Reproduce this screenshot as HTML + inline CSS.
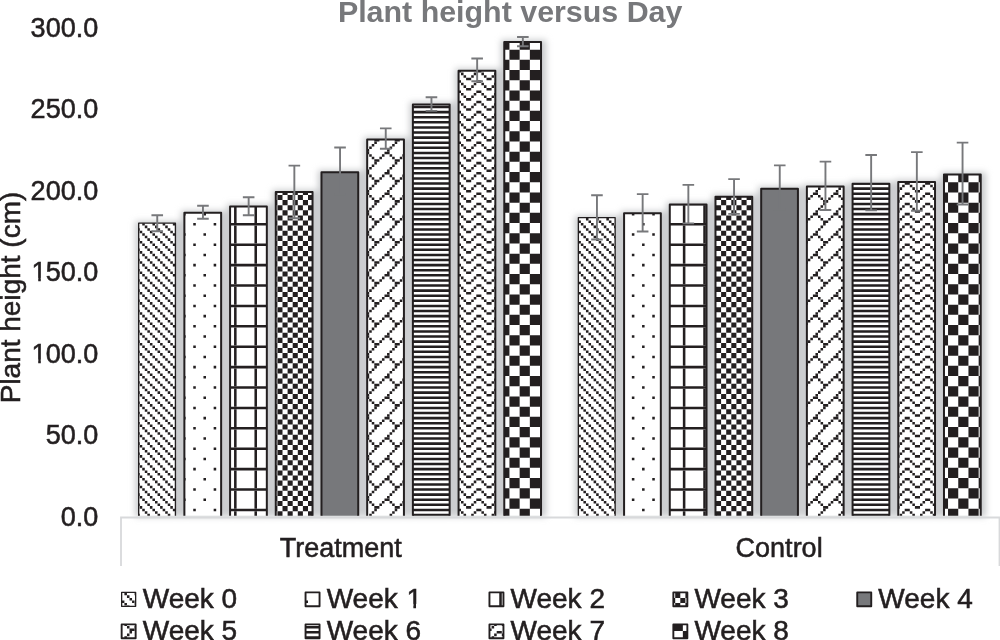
<!DOCTYPE html>
<html lang="en"><head><meta charset="utf-8"><title>Plant height versus Day</title>
<style>html,body{margin:0;padding:0;background:#fff}body{width:1000px;height:640px;overflow:hidden}svg{display:block}</style>
</head><body>
<svg width="1000" height="640" viewBox="0 0 1000 640"><defs><filter id="sh" x="-30%" y="-5%" width="160%" height="110%"><feGaussianBlur stdDeviation="3.1"/></filter><clipPath id="ct0"><rect x="138.68" y="223.18" width="36.75" height="292.53"/></clipPath><clipPath id="ct1"><rect x="184.38" y="212.8" width="36.75" height="302.9"/></clipPath><clipPath id="ct2"><rect x="230.08" y="206.4" width="36.75" height="309.3"/></clipPath><clipPath id="ct3"><rect x="275.78" y="192" width="36.75" height="323.7"/></clipPath><clipPath id="ct5"><rect x="367.18" y="139.4" width="36.75" height="376.3"/></clipPath><clipPath id="ct6"><rect x="412.88" y="104.4" width="36.75" height="411.3"/></clipPath><clipPath id="ct7"><rect x="458.58" y="70.8" width="36.75" height="444.9"/></clipPath><clipPath id="ct8"><rect x="504.28" y="42" width="36.75" height="473.7"/></clipPath><clipPath id="cc0"><rect x="578.38" y="217.68" width="36.75" height="298.03"/></clipPath><clipPath id="cc1"><rect x="624.08" y="213.2" width="36.75" height="302.5"/></clipPath><clipPath id="cc2"><rect x="669.78" y="204.4" width="36.75" height="311.3"/></clipPath><clipPath id="cc3"><rect x="715.48" y="196.7" width="36.75" height="319"/></clipPath><clipPath id="cc5"><rect x="806.88" y="186.6" width="36.75" height="329.1"/></clipPath><clipPath id="cc6"><rect x="852.58" y="183.7" width="36.75" height="332"/></clipPath><clipPath id="cc7"><rect x="898.28" y="181.9" width="36.75" height="333.8"/></clipPath><clipPath id="cc8"><rect x="943.98" y="174.5" width="36.75" height="341.2"/></clipPath><clipPath id="cl0"><rect x="121.65" y="592.4" width="14" height="13.9"/></clipPath><clipPath id="cl1"><rect x="305.55" y="592.4" width="14" height="13.9"/></clipPath><clipPath id="cl2"><rect x="489.45" y="592.4" width="14" height="13.9"/></clipPath><clipPath id="cl3"><rect x="673.35" y="592.4" width="14" height="13.9"/></clipPath><clipPath id="cl5"><rect x="121.65" y="624.4" width="14" height="13.9"/></clipPath><clipPath id="cl6"><rect x="305.55" y="624.4" width="14" height="13.9"/></clipPath><clipPath id="cl7"><rect x="489.45" y="624.4" width="14" height="13.9"/></clipPath><clipPath id="cl8"><rect x="673.35" y="624.4" width="14" height="13.9"/></clipPath></defs><rect width="1000" height="640" fill="#fff"/>
<g filter="url(#sh)" fill="#c9cbcd"><rect x="135.4" y="221.3" width="45.3" height="295.6"/><rect x="181.1" y="210.6" width="45.3" height="306.3"/><rect x="226.8" y="204.2" width="45.3" height="312.7"/><rect x="272.5" y="189.8" width="45.3" height="327.1"/><rect x="318.2" y="170.1" width="45.3" height="346.8"/><rect x="363.9" y="137.2" width="45.3" height="379.7"/><rect x="409.6" y="102.2" width="45.3" height="414.7"/><rect x="455.3" y="68.6" width="45.3" height="448.3"/><rect x="501" y="39.8" width="45.3" height="477.1"/><rect x="575.1" y="215.8" width="45.3" height="301.1"/><rect x="620.8" y="211" width="45.3" height="305.9"/><rect x="666.5" y="202.2" width="45.3" height="314.7"/><rect x="712.2" y="194.5" width="45.3" height="322.4"/><rect x="757.9" y="186.6" width="45.3" height="330.3"/><rect x="803.6" y="184.4" width="45.3" height="332.5"/><rect x="849.3" y="181.5" width="45.3" height="335.4"/><rect x="895" y="179.7" width="45.3" height="337.2"/><rect x="940.7" y="172.3" width="45.3" height="344.6"/></g>
<path d="M121 566V517.5H999.5V566" fill="none" stroke="#d8d9db" stroke-width="1.8"/>
<rect x="138.68" y="223.18" width="36.75" height="292.53" fill="#fff"/><g clip-path="url(#ct0)" stroke="#231f20" fill="none"><path d="M132.05 224.32H176.1M132.05 234.52H176.1M132.05 244.72H176.1M132.05 254.92H176.1M132.05 265.12H176.1M132.05 275.32H176.1M132.05 285.52H176.1M132.05 295.72H176.1M132.05 305.92H176.1M132.05 316.12H176.1M132.05 326.32H176.1M132.05 336.52H176.1M132.05 346.72H176.1M132.05 356.92H176.1M132.05 367.12H176.1M132.05 377.32H176.1M132.05 387.52H176.1M132.05 397.72H176.1M132.05 407.92H176.1M132.05 418.12H176.1M132.05 428.32H176.1M132.05 438.52H176.1M132.05 448.72H176.1M132.05 458.92H176.1M132.05 469.12H176.1M132.05 479.32H176.1M132.05 489.52H176.1M132.05 499.72H176.1M132.05 509.92H176.1" stroke-width="2.55" stroke-dasharray="2.55 7.65"/><path d="M134.6 226.88H176.1M134.6 237.07H176.1M134.6 247.27H176.1M134.6 257.47H176.1M134.6 267.67H176.1M134.6 277.87H176.1M134.6 288.07H176.1M134.6 298.27H176.1M134.6 308.47H176.1M134.6 318.67H176.1M134.6 328.87H176.1M134.6 339.07H176.1M134.6 349.27H176.1M134.6 359.47H176.1M134.6 369.67H176.1M134.6 379.87H176.1M134.6 390.07H176.1M134.6 400.27H176.1M134.6 410.47H176.1M134.6 420.67H176.1M134.6 430.87H176.1M134.6 441.07H176.1M134.6 451.27H176.1M134.6 461.47H176.1M134.6 471.67H176.1M134.6 481.87H176.1M134.6 492.07H176.1M134.6 502.27H176.1M134.6 512.47H176.1" stroke-width="2.55" stroke-dasharray="2.55 7.65"/><path d="M137.15 229.42H176.1M137.15 239.62H176.1M137.15 249.82H176.1M137.15 260.02H176.1M137.15 270.22H176.1M137.15 280.42H176.1M137.15 290.62H176.1M137.15 300.82H176.1M137.15 311.02H176.1M137.15 321.22H176.1M137.15 331.42H176.1M137.15 341.62H176.1M137.15 351.82H176.1M137.15 362.02H176.1M137.15 372.22H176.1M137.15 382.42H176.1M137.15 392.62H176.1M137.15 402.82H176.1M137.15 413.02H176.1M137.15 423.22H176.1M137.15 433.42H176.1M137.15 443.62H176.1M137.15 453.82H176.1M137.15 464.02H176.1M137.15 474.22H176.1M137.15 484.42H176.1M137.15 494.62H176.1M137.15 504.82H176.1M137.15 515.02H176.1" stroke-width="2.55" stroke-dasharray="2.55 7.65"/><path d="M139.7 221.78H176.1M139.7 231.97H176.1M139.7 242.17H176.1M139.7 252.37H176.1M139.7 262.57H176.1M139.7 272.77H176.1M139.7 282.97H176.1M139.7 293.17H176.1M139.7 303.37H176.1M139.7 313.57H176.1M139.7 323.77H176.1M139.7 333.97H176.1M139.7 344.17H176.1M139.7 354.37H176.1M139.7 364.57H176.1M139.7 374.77H176.1M139.7 384.97H176.1M139.7 395.17H176.1M139.7 405.37H176.1M139.7 415.57H176.1M139.7 425.77H176.1M139.7 435.97H176.1M139.7 446.17H176.1M139.7 456.37H176.1M139.7 466.57H176.1M139.7 476.77H176.1M139.7 486.97H176.1M139.7 497.17H176.1M139.7 507.37H176.1" stroke-width="2.55" stroke-dasharray="2.55 7.65"/></g><path d="M138.68 515.7V223.18H175.43V515.7" fill="none" stroke="#231f20" stroke-width="1.35" stroke-linejoin="round"/>
<rect x="184.38" y="212.8" width="36.75" height="302.9" fill="#fff"/><g clip-path="url(#ct1)" stroke="#231f20" fill="none"><path d="M172.85 224.33H222.13M172.85 244.73H222.13M172.85 265.12H222.13M172.85 285.52H222.13M172.85 305.92H222.13M172.85 326.32H222.13M172.85 346.72H222.13M172.85 367.12H222.13M172.85 387.52H222.13M172.85 407.92H222.13M172.85 428.32H222.13M172.85 448.72H222.13M172.85 469.12H222.13M172.85 489.52H222.13M172.85 509.92H222.13" stroke-width="2.55" stroke-dasharray="2.55 17.85"/><path d="M183.05 214.12H222.13M183.05 234.53H222.13M183.05 254.93H222.13M183.05 275.32H222.13M183.05 295.72H222.13M183.05 316.12H222.13M183.05 336.52H222.13M183.05 356.92H222.13M183.05 377.32H222.13M183.05 397.72H222.13M183.05 418.12H222.13M183.05 438.52H222.13M183.05 458.92H222.13M183.05 479.32H222.13M183.05 499.72H222.13" stroke-width="2.55" stroke-dasharray="2.55 17.85"/></g><path d="M184.38 515.7V212.8H221.13V515.7" fill="none" stroke="#231f20" stroke-width="2.0" stroke-linejoin="round"/>
<rect x="230.08" y="206.4" width="36.75" height="309.3" fill="#fff"/><g clip-path="url(#ct2)" stroke="#231f20" fill="none"><path d="M229.08 224.33H267.83M229.08 244.73H267.83M229.08 265.12H267.83M229.08 285.52H267.83M229.08 305.92H267.83M229.08 326.32H267.83M229.08 346.72H267.83M229.08 367.12H267.83M229.08 387.52H267.83M229.08 407.92H267.83M229.08 428.32H267.83M229.08 448.72H267.83M229.08 469.12H267.83M229.08 489.52H267.83M229.08 509.92H267.83" stroke-width="2.55"/><path d="M213.65 214.13H267.83M213.65 234.53H267.83M213.65 254.93H267.83M213.65 275.33H267.83M213.65 295.73H267.83M213.65 316.12H267.83M213.65 336.52H267.83M213.65 356.92H267.83M213.65 377.32H267.83M213.65 397.72H267.83M213.65 418.12H267.83M213.65 438.52H267.83M213.65 458.92H267.83M213.65 479.32H267.83M213.65 499.72H267.83M213.65 520.12H267.83" stroke-width="17.85" stroke-dasharray="2.55 17.85"/></g><path d="M230.08 515.7V206.4H266.83V515.7" fill="none" stroke="#231f20" stroke-width="2.0" stroke-linejoin="round"/>
<rect x="275.78" y="192" width="36.75" height="323.7" fill="#fff"/><g clip-path="url(#ct3)" stroke="#231f20" fill="none"><path d="M267.2 197.55H313.53M267.2 207.75H313.53M267.2 217.95H313.53M267.2 228.15H313.53M267.2 238.35H313.53M267.2 248.55H313.53M267.2 258.75H313.53M267.2 268.95H313.53M267.2 279.15H313.53M267.2 289.35H313.53M267.2 299.55H313.53M267.2 309.75H313.53M267.2 319.95H313.53M267.2 330.15H313.53M267.2 340.35H313.53M267.2 350.55H313.53M267.2 360.75H313.53M267.2 370.95H313.53M267.2 381.15H313.53M267.2 391.35H313.53M267.2 401.55H313.53M267.2 411.75H313.53M267.2 421.95H313.53M267.2 432.15H313.53M267.2 442.35H313.53M267.2 452.55H313.53M267.2 462.75H313.53M267.2 472.95H313.53M267.2 483.15H313.53M267.2 493.35H313.53M267.2 503.55H313.53M267.2 513.75H313.53" stroke-width="5.1" stroke-dasharray="5.1 5.1"/><path d="M262.1 192.45H313.53M262.1 202.65H313.53M262.1 212.85H313.53M262.1 223.05H313.53M262.1 233.25H313.53M262.1 243.45H313.53M262.1 253.65H313.53M262.1 263.85H313.53M262.1 274.05H313.53M262.1 284.25H313.53M262.1 294.45H313.53M262.1 304.65H313.53M262.1 314.85H313.53M262.1 325.05H313.53M262.1 335.25H313.53M262.1 345.45H313.53M262.1 355.65H313.53M262.1 365.85H313.53M262.1 376.05H313.53M262.1 386.25H313.53M262.1 396.45H313.53M262.1 406.65H313.53M262.1 416.85H313.53M262.1 427.05H313.53M262.1 437.25H313.53M262.1 447.45H313.53M262.1 457.65H313.53M262.1 467.85H313.53M262.1 478.05H313.53M262.1 488.25H313.53M262.1 498.45H313.53M262.1 508.65H313.53" stroke-width="5.1" stroke-dasharray="5.1 5.1"/></g><path d="M275.78 515.7V192H312.53V515.7" fill="none" stroke="#231f20" stroke-width="2.0" stroke-linejoin="round"/>
<rect x="321.48" y="172.3" width="36.75" height="343.4" fill="#77787b"/><path d="M321.48 515.7V172.3H358.23V515.7" fill="none" stroke="#231f20" stroke-width="2.0" stroke-linejoin="round"/>
<rect x="367.18" y="139.4" width="36.75" height="376.3" fill="#fff"/><g clip-path="url(#ct5)" stroke="#231f20" fill="none"><path d="M374.3 142.72H404.93M374.3 163.12H404.93M374.3 183.53H404.93M374.3 203.93H404.93M374.3 224.33H404.93M374.3 244.73H404.93M374.3 265.12H404.93M374.3 285.52H404.93M374.3 305.92H404.93M374.3 326.32H404.93M374.3 346.72H404.93M374.3 367.12H404.93M374.3 387.52H404.93M374.3 407.92H404.93M374.3 428.32H404.93M374.3 448.72H404.93M374.3 469.12H404.93M374.3 489.52H404.93M374.3 509.92H404.93" stroke-width="2.55" stroke-dasharray="2.55 17.85"/><path d="M371.75 145.28H404.93M371.75 165.68H404.93M371.75 186.08H404.93M371.75 206.48H404.93M371.75 226.88H404.93M371.75 247.28H404.93M371.75 267.68H404.93M371.75 288.07H404.93M371.75 308.47H404.93M371.75 328.87H404.93M371.75 349.27H404.93M371.75 369.67H404.93M371.75 390.07H404.93M371.75 410.47H404.93M371.75 430.87H404.93M371.75 451.27H404.93M371.75 471.67H404.93M371.75 492.07H404.93M371.75 512.47H404.93" stroke-width="2.55" stroke-dasharray="2.55 17.85"/><path d="M369.2 147.82H404.93M369.2 168.22H404.93M369.2 188.62H404.93M369.2 209.03H404.93M369.2 229.43H404.93M369.2 249.83H404.93M369.2 270.23H404.93M369.2 290.62H404.93M369.2 311.02H404.93M369.2 331.42H404.93M369.2 351.82H404.93M369.2 372.22H404.93M369.2 392.62H404.93M369.2 413.02H404.93M369.2 433.42H404.93M369.2 453.82H404.93M369.2 474.22H404.93M369.2 494.62H404.93M369.2 515.02H404.93" stroke-width="2.55" stroke-dasharray="2.55 17.85"/><path d="M366.65 150.38H404.93M366.65 170.78H404.93M366.65 191.18H404.93M366.65 211.58H404.93M366.65 231.98H404.93M366.65 252.38H404.93M366.65 272.78H404.93M366.65 293.18H404.93M366.65 313.57H404.93M366.65 333.97H404.93M366.65 354.37H404.93M366.65 374.77H404.93M366.65 395.17H404.93M366.65 415.57H404.93M366.65 435.97H404.93M366.65 456.37H404.93M366.65 476.77H404.93M366.65 497.17H404.93" stroke-width="2.55" stroke-dasharray="2.55 17.85"/><path d="M364.1 152.93H404.93M364.1 173.33H404.93M364.1 193.73H404.93M364.1 214.13H404.93M364.1 234.53H404.93M364.1 254.93H404.93M364.1 275.33H404.93M364.1 295.73H404.93M364.1 316.12H404.93M364.1 336.52H404.93M364.1 356.92H404.93M364.1 377.32H404.93M364.1 397.72H404.93M364.1 418.12H404.93M364.1 438.52H404.93M364.1 458.92H404.93M364.1 479.32H404.93M364.1 499.72H404.93" stroke-width="2.55" stroke-dasharray="5.1 15.3"/><path d="M361.55 155.48H404.93M361.55 175.88H404.93M361.55 196.28H404.93M361.55 216.68H404.93M361.55 237.08H404.93M361.55 257.48H404.93M361.55 277.88H404.93M361.55 298.27H404.93M361.55 318.67H404.93M361.55 339.07H404.93M361.55 359.47H404.93M361.55 379.87H404.93M361.55 400.27H404.93M361.55 420.67H404.93M361.55 441.07H404.93M361.55 461.47H404.93M361.55 481.87H404.93M361.55 502.27H404.93" stroke-width="2.55" stroke-dasharray="2.55 5.1 2.55 10.2"/><path d="M359 137.62H404.93M359 158.03H404.93M359 178.43H404.93M359 198.83H404.93M359 219.23H404.93M359 239.63H404.93M359 260.03H404.93M359 280.43H404.93M359 300.82H404.93M359 321.22H404.93M359 341.62H404.93M359 362.02H404.93M359 382.42H404.93M359 402.82H404.93M359 423.22H404.93M359 443.62H404.93M359 464.02H404.93M359 484.42H404.93M359 504.82H404.93" stroke-width="2.55" stroke-dasharray="2.55 10.2 2.55 5.1"/><path d="M353.9 140.18H404.93M353.9 160.58H404.93M353.9 180.98H404.93M353.9 201.38H404.93M353.9 221.78H404.93M353.9 242.18H404.93M353.9 262.58H404.93M353.9 282.98H404.93M353.9 303.38H404.93M353.9 323.77H404.93M353.9 344.17H404.93M353.9 364.57H404.93M353.9 384.97H404.93M353.9 405.37H404.93M353.9 425.77H404.93M353.9 446.17H404.93M353.9 466.57H404.93M353.9 486.97H404.93M353.9 507.37H404.93" stroke-width="2.55" stroke-dasharray="5.1 15.3"/></g><path d="M367.18 515.7V139.4H403.93V515.7" fill="none" stroke="#231f20" stroke-width="2.0" stroke-linejoin="round"/>
<rect x="412.88" y="104.4" width="36.75" height="411.3" fill="#fff"/><g clip-path="url(#ct6)" stroke="#231f20" fill="none"><path d="M411.88 107.02H450.63M411.88 112.12H450.63M411.88 117.22H450.63M411.88 122.32H450.63M411.88 127.42H450.63M411.88 132.52H450.63M411.88 137.62H450.63M411.88 142.72H450.63M411.88 147.82H450.63M411.88 152.92H450.63M411.88 158.02H450.63M411.88 163.12H450.63M411.88 168.22H450.63M411.88 173.32H450.63M411.88 178.42H450.63M411.88 183.52H450.63M411.88 188.62H450.63M411.88 193.72H450.63M411.88 198.82H450.63M411.88 203.92H450.63M411.88 209.02H450.63M411.88 214.12H450.63M411.88 219.22H450.63M411.88 224.32H450.63M411.88 229.42H450.63M411.88 234.52H450.63M411.88 239.62H450.63M411.88 244.72H450.63M411.88 249.82H450.63M411.88 254.92H450.63M411.88 260.02H450.63M411.88 265.12H450.63M411.88 270.22H450.63M411.88 275.32H450.63M411.88 280.42H450.63M411.88 285.52H450.63M411.88 290.62H450.63M411.88 295.73H450.63M411.88 300.83H450.63M411.88 305.93H450.63M411.88 311.03H450.63M411.88 316.13H450.63M411.88 321.23H450.63M411.88 326.33H450.63M411.88 331.43H450.63M411.88 336.53H450.63M411.88 341.63H450.63M411.88 346.73H450.63M411.88 351.83H450.63M411.88 356.93H450.63M411.88 362.03H450.63M411.88 367.13H450.63M411.88 372.23H450.63M411.88 377.33H450.63M411.88 382.43H450.63M411.88 387.53H450.63M411.88 392.63H450.63M411.88 397.73H450.63M411.88 402.83H450.63M411.88 407.93H450.63M411.88 413.03H450.63M411.88 418.13H450.63M411.88 423.23H450.63M411.88 428.33H450.63M411.88 433.43H450.63M411.88 438.53H450.63M411.88 443.63H450.63M411.88 448.73H450.63M411.88 453.83H450.63M411.88 458.93H450.63M411.88 464.03H450.63M411.88 469.13H450.63M411.88 474.23H450.63M411.88 479.33H450.63M411.88 484.43H450.63M411.88 489.53H450.63M411.88 494.63H450.63M411.88 499.73H450.63M411.88 504.83H450.63M411.88 509.93H450.63M411.88 515.03H450.63" stroke-width="2.55"/></g><path d="M412.88 515.7V104.4H449.63V515.7" fill="none" stroke="#231f20" stroke-width="2.0" stroke-linejoin="round"/>
<rect x="458.58" y="70.8" width="36.75" height="444.9" fill="#fff"/><g clip-path="url(#ct7)" stroke="#231f20" fill="none"><path d="M435.5 71.32H496.33M435.5 81.52H496.33M435.5 91.72H496.33M435.5 101.92H496.33M435.5 112.12H496.33M435.5 122.33H496.33M435.5 132.53H496.33M435.5 142.72H496.33M435.5 152.92H496.33M435.5 163.12H496.33M435.5 173.32H496.33M435.5 183.52H496.33M435.5 193.72H496.33M435.5 203.92H496.33M435.5 214.12H496.33M435.5 224.32H496.33M435.5 234.52H496.33M435.5 244.72H496.33M435.5 254.92H496.33M435.5 265.12H496.33M435.5 275.32H496.33M435.5 285.52H496.33M435.5 295.72H496.33M435.5 305.92H496.33M435.5 316.12H496.33M435.5 326.32H496.33M435.5 336.52H496.33M435.5 346.72H496.33M435.5 356.92H496.33M435.5 367.12H496.33M435.5 377.32H496.33M435.5 387.52H496.33M435.5 397.72H496.33M435.5 407.92H496.33M435.5 418.12H496.33M435.5 428.32H496.33M435.5 438.52H496.33M435.5 448.72H496.33M435.5 458.92H496.33M435.5 469.12H496.33M435.5 479.32H496.33M435.5 489.52H496.33M435.5 499.72H496.33M435.5 509.92H496.33" stroke-width="2.55" stroke-dasharray="5.1 15.3"/><path d="M440.6 73.87H496.33M440.6 84.07H496.33M440.6 94.27H496.33M440.6 104.47H496.33M440.6 114.67H496.33M440.6 124.88H496.33M440.6 135.07H496.33M440.6 145.27H496.33M440.6 155.47H496.33M440.6 165.67H496.33M440.6 175.87H496.33M440.6 186.07H496.33M440.6 196.27H496.33M440.6 206.47H496.33M440.6 216.67H496.33M440.6 226.87H496.33M440.6 237.07H496.33M440.6 247.27H496.33M440.6 257.47H496.33M440.6 267.67H496.33M440.6 277.87H496.33M440.6 288.07H496.33M440.6 298.27H496.33M440.6 308.47H496.33M440.6 318.67H496.33M440.6 328.87H496.33M440.6 339.07H496.33M440.6 349.27H496.33M440.6 359.47H496.33M440.6 369.67H496.33M440.6 379.87H496.33M440.6 390.07H496.33M440.6 400.27H496.33M440.6 410.47H496.33M440.6 420.67H496.33M440.6 430.87H496.33M440.6 441.07H496.33M440.6 451.27H496.33M440.6 461.47H496.33M440.6 471.67H496.33M440.6 481.87H496.33M440.6 492.07H496.33M440.6 502.27H496.33M440.6 512.47H496.33" stroke-width="2.55" stroke-dasharray="2.55 10.2 2.55 5.1"/><path d="M443.15 76.42H496.33M443.15 86.62H496.33M443.15 96.83H496.33M443.15 107.03H496.33M443.15 117.23H496.33M443.15 127.43H496.33M443.15 137.62H496.33M443.15 147.82H496.33M443.15 158.02H496.33M443.15 168.22H496.33M443.15 178.42H496.33M443.15 188.62H496.33M443.15 198.82H496.33M443.15 209.02H496.33M443.15 219.22H496.33M443.15 229.42H496.33M443.15 239.62H496.33M443.15 249.82H496.33M443.15 260.02H496.33M443.15 270.22H496.33M443.15 280.42H496.33M443.15 290.62H496.33M443.15 300.82H496.33M443.15 311.02H496.33M443.15 321.22H496.33M443.15 331.42H496.33M443.15 341.62H496.33M443.15 351.82H496.33M443.15 362.02H496.33M443.15 372.22H496.33M443.15 382.42H496.33M443.15 392.62H496.33M443.15 402.82H496.33M443.15 413.02H496.33M443.15 423.22H496.33M443.15 433.42H496.33M443.15 443.62H496.33M443.15 453.82H496.33M443.15 464.02H496.33M443.15 474.22H496.33M443.15 484.42H496.33M443.15 494.62H496.33M443.15 504.82H496.33M443.15 515.02H496.33" stroke-width="2.55" stroke-dasharray="2.55 5.1 2.55 10.2"/><path d="M445.7 68.78H496.33M445.7 78.98H496.33M445.7 89.18H496.33M445.7 99.38H496.33M445.7 109.58H496.33M445.7 119.78H496.33M445.7 129.98H496.33M445.7 140.18H496.33M445.7 150.38H496.33M445.7 160.57H496.33M445.7 170.77H496.33M445.7 180.97H496.33M445.7 191.17H496.33M445.7 201.37H496.33M445.7 211.57H496.33M445.7 221.77H496.33M445.7 231.97H496.33M445.7 242.17H496.33M445.7 252.37H496.33M445.7 262.57H496.33M445.7 272.77H496.33M445.7 282.97H496.33M445.7 293.17H496.33M445.7 303.37H496.33M445.7 313.57H496.33M445.7 323.77H496.33M445.7 333.97H496.33M445.7 344.17H496.33M445.7 354.37H496.33M445.7 364.57H496.33M445.7 374.77H496.33M445.7 384.97H496.33M445.7 395.17H496.33M445.7 405.37H496.33M445.7 415.57H496.33M445.7 425.77H496.33M445.7 435.97H496.33M445.7 446.17H496.33M445.7 456.37H496.33M445.7 466.57H496.33M445.7 476.77H496.33M445.7 486.97H496.33M445.7 497.17H496.33M445.7 507.37H496.33" stroke-width="2.55" stroke-dasharray="5.1 15.3"/></g><path d="M458.58 515.7V70.8H495.33V515.7" fill="none" stroke="#231f20" stroke-width="2.0" stroke-linejoin="round"/>
<rect x="504.28" y="42" width="36.75" height="473.7" fill="#fff"/><g clip-path="url(#ct8)" stroke="#231f20" fill="none"><path d="M499.25 44.55H542.03M499.25 64.95H542.03M499.25 85.35H542.03M499.25 105.75H542.03M499.25 126.15H542.03M499.25 146.55H542.03M499.25 166.95H542.03M499.25 187.35H542.03M499.25 207.75H542.03M499.25 228.15H542.03M499.25 248.55H542.03M499.25 268.95H542.03M499.25 289.35H542.03M499.25 309.75H542.03M499.25 330.15H542.03M499.25 350.55H542.03M499.25 370.95H542.03M499.25 391.35H542.03M499.25 411.75H542.03M499.25 432.15H542.03M499.25 452.55H542.03M499.25 472.95H542.03M499.25 493.35H542.03M499.25 513.75H542.03" stroke-width="10.2" stroke-dasharray="10.2 10.2"/><path d="M509.45 54.75H542.03M509.45 75.15H542.03M509.45 95.55H542.03M509.45 115.95H542.03M509.45 136.35H542.03M509.45 156.75H542.03M509.45 177.15H542.03M509.45 197.55H542.03M509.45 217.95H542.03M509.45 238.35H542.03M509.45 258.75H542.03M509.45 279.15H542.03M509.45 299.55H542.03M509.45 319.95H542.03M509.45 340.35H542.03M509.45 360.75H542.03M509.45 381.15H542.03M509.45 401.55H542.03M509.45 421.95H542.03M509.45 442.35H542.03M509.45 462.75H542.03M509.45 483.15H542.03M509.45 503.55H542.03" stroke-width="10.2" stroke-dasharray="10.2 10.2"/></g><path d="M504.28 515.7V42H541.03V515.7" fill="none" stroke="#231f20" stroke-width="2.0" stroke-linejoin="round"/>
<rect x="578.38" y="217.68" width="36.75" height="298.03" fill="#fff"/><g clip-path="url(#cc0)" stroke="#231f20" fill="none"><path d="M570.65 224.32H615.81M570.65 234.52H615.81M570.65 244.72H615.81M570.65 254.92H615.81M570.65 265.12H615.81M570.65 275.32H615.81M570.65 285.52H615.81M570.65 295.72H615.81M570.65 305.92H615.81M570.65 316.12H615.81M570.65 326.32H615.81M570.65 336.52H615.81M570.65 346.72H615.81M570.65 356.92H615.81M570.65 367.12H615.81M570.65 377.32H615.81M570.65 387.52H615.81M570.65 397.72H615.81M570.65 407.92H615.81M570.65 418.12H615.81M570.65 428.32H615.81M570.65 438.52H615.81M570.65 448.72H615.81M570.65 458.92H615.81M570.65 469.12H615.81M570.65 479.32H615.81M570.65 489.52H615.81M570.65 499.72H615.81M570.65 509.92H615.81" stroke-width="2.55" stroke-dasharray="2.55 7.65"/><path d="M573.2 216.68H615.81M573.2 226.88H615.81M573.2 237.07H615.81M573.2 247.27H615.81M573.2 257.47H615.81M573.2 267.67H615.81M573.2 277.87H615.81M573.2 288.07H615.81M573.2 298.27H615.81M573.2 308.47H615.81M573.2 318.67H615.81M573.2 328.87H615.81M573.2 339.07H615.81M573.2 349.27H615.81M573.2 359.47H615.81M573.2 369.67H615.81M573.2 379.87H615.81M573.2 390.07H615.81M573.2 400.27H615.81M573.2 410.47H615.81M573.2 420.67H615.81M573.2 430.87H615.81M573.2 441.07H615.81M573.2 451.27H615.81M573.2 461.47H615.81M573.2 471.67H615.81M573.2 481.87H615.81M573.2 492.07H615.81M573.2 502.27H615.81M573.2 512.47H615.81" stroke-width="2.55" stroke-dasharray="2.55 7.65"/><path d="M575.75 219.22H615.81M575.75 229.42H615.81M575.75 239.62H615.81M575.75 249.82H615.81M575.75 260.02H615.81M575.75 270.22H615.81M575.75 280.42H615.81M575.75 290.62H615.81M575.75 300.82H615.81M575.75 311.02H615.81M575.75 321.22H615.81M575.75 331.42H615.81M575.75 341.62H615.81M575.75 351.82H615.81M575.75 362.02H615.81M575.75 372.22H615.81M575.75 382.42H615.81M575.75 392.62H615.81M575.75 402.82H615.81M575.75 413.02H615.81M575.75 423.22H615.81M575.75 433.42H615.81M575.75 443.62H615.81M575.75 453.82H615.81M575.75 464.02H615.81M575.75 474.22H615.81M575.75 484.42H615.81M575.75 494.62H615.81M575.75 504.82H615.81M575.75 515.02H615.81" stroke-width="2.55" stroke-dasharray="2.55 7.65"/><path d="M578.3 221.78H615.81M578.3 231.97H615.81M578.3 242.17H615.81M578.3 252.37H615.81M578.3 262.57H615.81M578.3 272.77H615.81M578.3 282.97H615.81M578.3 293.17H615.81M578.3 303.37H615.81M578.3 313.57H615.81M578.3 323.77H615.81M578.3 333.97H615.81M578.3 344.17H615.81M578.3 354.37H615.81M578.3 364.57H615.81M578.3 374.77H615.81M578.3 384.97H615.81M578.3 395.17H615.81M578.3 405.37H615.81M578.3 415.57H615.81M578.3 425.77H615.81M578.3 435.97H615.81M578.3 446.17H615.81M578.3 456.37H615.81M578.3 466.57H615.81M578.3 476.77H615.81M578.3 486.97H615.81M578.3 497.17H615.81M578.3 507.37H615.81" stroke-width="2.55" stroke-dasharray="2.55 7.65"/></g><path d="M578.38 515.7V217.68H615.13V515.7" fill="none" stroke="#231f20" stroke-width="1.35" stroke-linejoin="round"/>
<rect x="624.08" y="213.2" width="36.75" height="302.5" fill="#fff"/><g clip-path="url(#cc1)" stroke="#231f20" fill="none"><path d="M621.65 224.33H661.83M621.65 244.73H661.83M621.65 265.12H661.83M621.65 285.52H661.83M621.65 305.92H661.83M621.65 326.32H661.83M621.65 346.72H661.83M621.65 367.12H661.83M621.65 387.52H661.83M621.65 407.92H661.83M621.65 428.32H661.83M621.65 448.72H661.83M621.65 469.12H661.83M621.65 489.52H661.83M621.65 509.92H661.83" stroke-width="2.55" stroke-dasharray="2.55 17.85"/><path d="M631.85 214.12H661.83M631.85 234.53H661.83M631.85 254.93H661.83M631.85 275.32H661.83M631.85 295.72H661.83M631.85 316.12H661.83M631.85 336.52H661.83M631.85 356.92H661.83M631.85 377.32H661.83M631.85 397.72H661.83M631.85 418.12H661.83M631.85 438.52H661.83M631.85 458.92H661.83M631.85 479.32H661.83M631.85 499.72H661.83" stroke-width="2.55" stroke-dasharray="2.55 17.85"/></g><path d="M624.08 515.7V213.2H660.83V515.7" fill="none" stroke="#231f20" stroke-width="2.0" stroke-linejoin="round"/>
<rect x="669.78" y="204.4" width="36.75" height="311.3" fill="#fff"/><g clip-path="url(#cc2)" stroke="#231f20" fill="none"><path d="M668.78 203.93H707.53M668.78 224.33H707.53M668.78 244.73H707.53M668.78 265.12H707.53M668.78 285.52H707.53M668.78 305.92H707.53M668.78 326.32H707.53M668.78 346.72H707.53M668.78 367.12H707.53M668.78 387.52H707.53M668.78 407.92H707.53M668.78 428.32H707.53M668.78 448.72H707.53M668.78 469.12H707.53M668.78 489.52H707.53M668.78 509.92H707.53" stroke-width="2.55"/><path d="M662.45 214.13H707.53M662.45 234.53H707.53M662.45 254.93H707.53M662.45 275.33H707.53M662.45 295.73H707.53M662.45 316.12H707.53M662.45 336.52H707.53M662.45 356.92H707.53M662.45 377.32H707.53M662.45 397.72H707.53M662.45 418.12H707.53M662.45 438.52H707.53M662.45 458.92H707.53M662.45 479.32H707.53M662.45 499.72H707.53M662.45 520.12H707.53" stroke-width="17.85" stroke-dasharray="2.55 17.85"/></g><path d="M669.78 515.7V204.4H706.53V515.7" fill="none" stroke="#231f20" stroke-width="2.0" stroke-linejoin="round"/>
<rect x="715.48" y="196.7" width="36.75" height="319" fill="#fff"/><g clip-path="url(#cc3)" stroke="#231f20" fill="none"><path d="M716 197.55H753.23M716 207.75H753.23M716 217.95H753.23M716 228.15H753.23M716 238.35H753.23M716 248.55H753.23M716 258.75H753.23M716 268.95H753.23M716 279.15H753.23M716 289.35H753.23M716 299.55H753.23M716 309.75H753.23M716 319.95H753.23M716 330.15H753.23M716 340.35H753.23M716 350.55H753.23M716 360.75H753.23M716 370.95H753.23M716 381.15H753.23M716 391.35H753.23M716 401.55H753.23M716 411.75H753.23M716 421.95H753.23M716 432.15H753.23M716 442.35H753.23M716 452.55H753.23M716 462.75H753.23M716 472.95H753.23M716 483.15H753.23M716 493.35H753.23M716 503.55H753.23M716 513.75H753.23" stroke-width="5.1" stroke-dasharray="5.1 5.1"/><path d="M710.9 202.65H753.23M710.9 212.85H753.23M710.9 223.05H753.23M710.9 233.25H753.23M710.9 243.45H753.23M710.9 253.65H753.23M710.9 263.85H753.23M710.9 274.05H753.23M710.9 284.25H753.23M710.9 294.45H753.23M710.9 304.65H753.23M710.9 314.85H753.23M710.9 325.05H753.23M710.9 335.25H753.23M710.9 345.45H753.23M710.9 355.65H753.23M710.9 365.85H753.23M710.9 376.05H753.23M710.9 386.25H753.23M710.9 396.45H753.23M710.9 406.65H753.23M710.9 416.85H753.23M710.9 427.05H753.23M710.9 437.25H753.23M710.9 447.45H753.23M710.9 457.65H753.23M710.9 467.85H753.23M710.9 478.05H753.23M710.9 488.25H753.23M710.9 498.45H753.23M710.9 508.65H753.23" stroke-width="5.1" stroke-dasharray="5.1 5.1"/></g><path d="M715.48 515.7V196.7H752.23V515.7" fill="none" stroke="#231f20" stroke-width="2.0" stroke-linejoin="round"/>
<rect x="761.18" y="188.8" width="36.75" height="326.9" fill="#77787b"/><path d="M761.18 515.7V188.8H797.93V515.7" fill="none" stroke="#231f20" stroke-width="2.0" stroke-linejoin="round"/>
<rect x="806.88" y="186.6" width="36.75" height="329.1" fill="#fff"/><g clip-path="url(#cc5)" stroke="#231f20" fill="none"><path d="M823.1 203.93H844.63M823.1 224.33H844.63M823.1 244.73H844.63M823.1 265.12H844.63M823.1 285.52H844.63M823.1 305.92H844.63M823.1 326.32H844.63M823.1 346.72H844.63M823.1 367.12H844.63M823.1 387.52H844.63M823.1 407.92H844.63M823.1 428.32H844.63M823.1 448.72H844.63M823.1 469.12H844.63M823.1 489.52H844.63M823.1 509.92H844.63" stroke-width="2.55" stroke-dasharray="2.55 17.85"/><path d="M820.55 186.08H844.63M820.55 206.48H844.63M820.55 226.88H844.63M820.55 247.28H844.63M820.55 267.68H844.63M820.55 288.07H844.63M820.55 308.47H844.63M820.55 328.87H844.63M820.55 349.27H844.63M820.55 369.67H844.63M820.55 390.07H844.63M820.55 410.47H844.63M820.55 430.87H844.63M820.55 451.27H844.63M820.55 471.67H844.63M820.55 492.07H844.63M820.55 512.47H844.63" stroke-width="2.55" stroke-dasharray="2.55 17.85"/><path d="M818 188.62H844.63M818 209.03H844.63M818 229.43H844.63M818 249.83H844.63M818 270.23H844.63M818 290.62H844.63M818 311.02H844.63M818 331.42H844.63M818 351.82H844.63M818 372.22H844.63M818 392.62H844.63M818 413.02H844.63M818 433.42H844.63M818 453.82H844.63M818 474.22H844.63M818 494.62H844.63M818 515.02H844.63" stroke-width="2.55" stroke-dasharray="2.55 17.85"/><path d="M815.45 191.18H844.63M815.45 211.58H844.63M815.45 231.98H844.63M815.45 252.38H844.63M815.45 272.78H844.63M815.45 293.18H844.63M815.45 313.57H844.63M815.45 333.97H844.63M815.45 354.37H844.63M815.45 374.77H844.63M815.45 395.17H844.63M815.45 415.57H844.63M815.45 435.97H844.63M815.45 456.37H844.63M815.45 476.77H844.63M815.45 497.17H844.63" stroke-width="2.55" stroke-dasharray="2.55 17.85"/><path d="M812.9 193.72H844.63M812.9 214.12H844.63M812.9 234.53H844.63M812.9 254.93H844.63M812.9 275.32H844.63M812.9 295.72H844.63M812.9 316.12H844.63M812.9 336.52H844.63M812.9 356.92H844.63M812.9 377.32H844.63M812.9 397.72H844.63M812.9 418.12H844.63M812.9 438.52H844.63M812.9 458.92H844.63M812.9 479.32H844.63M812.9 499.72H844.63" stroke-width="2.55" stroke-dasharray="5.1 15.3"/><path d="M810.35 196.28H844.63M810.35 216.68H844.63M810.35 237.08H844.63M810.35 257.48H844.63M810.35 277.88H844.63M810.35 298.27H844.63M810.35 318.67H844.63M810.35 339.07H844.63M810.35 359.47H844.63M810.35 379.87H844.63M810.35 400.27H844.63M810.35 420.67H844.63M810.35 441.07H844.63M810.35 461.47H844.63M810.35 481.87H844.63M810.35 502.27H844.63" stroke-width="2.55" stroke-dasharray="2.55 5.1 2.55 10.2"/><path d="M807.8 198.83H844.63M807.8 219.23H844.63M807.8 239.63H844.63M807.8 260.03H844.63M807.8 280.43H844.63M807.8 300.82H844.63M807.8 321.22H844.63M807.8 341.62H844.63M807.8 362.02H844.63M807.8 382.42H844.63M807.8 402.82H844.63M807.8 423.22H844.63M807.8 443.62H844.63M807.8 464.02H844.63M807.8 484.42H844.63M807.8 504.82H844.63" stroke-width="2.55" stroke-dasharray="2.55 10.2 2.55 5.1"/><path d="M802.7 201.38H844.63M802.7 221.78H844.63M802.7 242.18H844.63M802.7 262.57H844.63M802.7 282.97H844.63M802.7 303.37H844.63M802.7 323.77H844.63M802.7 344.17H844.63M802.7 364.57H844.63M802.7 384.97H844.63M802.7 405.37H844.63M802.7 425.77H844.63M802.7 446.17H844.63M802.7 466.57H844.63M802.7 486.97H844.63M802.7 507.37H844.63" stroke-width="2.55" stroke-dasharray="5.1 15.3"/></g><path d="M806.88 515.7V186.6H843.63V515.7" fill="none" stroke="#231f20" stroke-width="2.0" stroke-linejoin="round"/>
<rect x="852.58" y="183.7" width="36.75" height="332" fill="#fff"/><g clip-path="url(#cc6)" stroke="#231f20" fill="none"><path d="M851.58 183.53H890.33M851.58 188.62H890.33M851.58 193.72H890.33M851.58 198.82H890.33M851.58 203.92H890.33M851.58 209.02H890.33M851.58 214.12H890.33M851.58 219.22H890.33M851.58 224.32H890.33M851.58 229.42H890.33M851.58 234.52H890.33M851.58 239.62H890.33M851.58 244.72H890.33M851.58 249.82H890.33M851.58 254.92H890.33M851.58 260.02H890.33M851.58 265.12H890.33M851.58 270.22H890.33M851.58 275.32H890.33M851.58 280.43H890.33M851.58 285.53H890.33M851.58 290.63H890.33M851.58 295.73H890.33M851.58 300.83H890.33M851.58 305.93H890.33M851.58 311.03H890.33M851.58 316.13H890.33M851.58 321.23H890.33M851.58 326.33H890.33M851.58 331.43H890.33M851.58 336.53H890.33M851.58 341.63H890.33M851.58 346.73H890.33M851.58 351.83H890.33M851.58 356.93H890.33M851.58 362.03H890.33M851.58 367.13H890.33M851.58 372.23H890.33M851.58 377.33H890.33M851.58 382.43H890.33M851.58 387.53H890.33M851.58 392.63H890.33M851.58 397.73H890.33M851.58 402.83H890.33M851.58 407.93H890.33M851.58 413.03H890.33M851.58 418.13H890.33M851.58 423.23H890.33M851.58 428.33H890.33M851.58 433.43H890.33M851.58 438.53H890.33M851.58 443.63H890.33M851.58 448.73H890.33M851.58 453.83H890.33M851.58 458.93H890.33M851.58 464.03H890.33M851.58 469.13H890.33M851.58 474.23H890.33M851.58 479.33H890.33M851.58 484.43H890.33M851.58 489.53H890.33M851.58 494.63H890.33M851.58 499.73H890.33M851.58 504.83H890.33M851.58 509.93H890.33M851.58 515.03H890.33" stroke-width="2.55"/></g><path d="M852.58 515.7V183.7H889.33V515.7" fill="none" stroke="#231f20" stroke-width="2.0" stroke-linejoin="round"/>
<rect x="898.28" y="181.9" width="36.75" height="333.8" fill="#fff"/><g clip-path="url(#cc7)" stroke="#231f20" fill="none"><path d="M884.3 183.53H936.03M884.3 193.72H936.03M884.3 203.92H936.03M884.3 214.12H936.03M884.3 224.32H936.03M884.3 234.52H936.03M884.3 244.72H936.03M884.3 254.92H936.03M884.3 265.12H936.03M884.3 275.32H936.03M884.3 285.52H936.03M884.3 295.72H936.03M884.3 305.92H936.03M884.3 316.12H936.03M884.3 326.32H936.03M884.3 336.52H936.03M884.3 346.72H936.03M884.3 356.92H936.03M884.3 367.12H936.03M884.3 377.32H936.03M884.3 387.52H936.03M884.3 397.72H936.03M884.3 407.92H936.03M884.3 418.12H936.03M884.3 428.32H936.03M884.3 438.52H936.03M884.3 448.72H936.03M884.3 458.92H936.03M884.3 469.12H936.03M884.3 479.32H936.03M884.3 489.52H936.03M884.3 499.72H936.03M884.3 509.92H936.03" stroke-width="2.55" stroke-dasharray="5.1 15.3"/><path d="M889.4 186.08H936.03M889.4 196.28H936.03M889.4 206.47H936.03M889.4 216.67H936.03M889.4 226.87H936.03M889.4 237.07H936.03M889.4 247.27H936.03M889.4 257.47H936.03M889.4 267.67H936.03M889.4 277.87H936.03M889.4 288.07H936.03M889.4 298.27H936.03M889.4 308.47H936.03M889.4 318.67H936.03M889.4 328.87H936.03M889.4 339.07H936.03M889.4 349.27H936.03M889.4 359.47H936.03M889.4 369.67H936.03M889.4 379.87H936.03M889.4 390.07H936.03M889.4 400.27H936.03M889.4 410.47H936.03M889.4 420.67H936.03M889.4 430.87H936.03M889.4 441.07H936.03M889.4 451.27H936.03M889.4 461.47H936.03M889.4 471.67H936.03M889.4 481.87H936.03M889.4 492.07H936.03M889.4 502.27H936.03M889.4 512.47H936.03" stroke-width="2.55" stroke-dasharray="2.55 10.2 2.55 5.1"/><path d="M891.95 188.62H936.03M891.95 198.82H936.03M891.95 209.02H936.03M891.95 219.22H936.03M891.95 229.42H936.03M891.95 239.62H936.03M891.95 249.82H936.03M891.95 260.02H936.03M891.95 270.22H936.03M891.95 280.42H936.03M891.95 290.62H936.03M891.95 300.82H936.03M891.95 311.02H936.03M891.95 321.22H936.03M891.95 331.42H936.03M891.95 341.62H936.03M891.95 351.82H936.03M891.95 362.02H936.03M891.95 372.22H936.03M891.95 382.42H936.03M891.95 392.62H936.03M891.95 402.82H936.03M891.95 413.02H936.03M891.95 423.22H936.03M891.95 433.42H936.03M891.95 443.62H936.03M891.95 453.82H936.03M891.95 464.02H936.03M891.95 474.22H936.03M891.95 484.42H936.03M891.95 494.62H936.03M891.95 504.82H936.03M891.95 515.02H936.03" stroke-width="2.55" stroke-dasharray="2.55 5.1 2.55 10.2"/><path d="M894.5 180.98H936.03M894.5 191.18H936.03M894.5 201.38H936.03M894.5 211.57H936.03M894.5 221.77H936.03M894.5 231.97H936.03M894.5 242.17H936.03M894.5 252.37H936.03M894.5 262.57H936.03M894.5 272.77H936.03M894.5 282.97H936.03M894.5 293.17H936.03M894.5 303.37H936.03M894.5 313.57H936.03M894.5 323.77H936.03M894.5 333.97H936.03M894.5 344.17H936.03M894.5 354.37H936.03M894.5 364.57H936.03M894.5 374.77H936.03M894.5 384.97H936.03M894.5 395.17H936.03M894.5 405.37H936.03M894.5 415.57H936.03M894.5 425.77H936.03M894.5 435.97H936.03M894.5 446.17H936.03M894.5 456.37H936.03M894.5 466.57H936.03M894.5 476.77H936.03M894.5 486.97H936.03M894.5 497.17H936.03M894.5 507.37H936.03" stroke-width="2.55" stroke-dasharray="5.1 15.3"/></g><path d="M898.28 515.7V181.9H935.03V515.7" fill="none" stroke="#231f20" stroke-width="2.0" stroke-linejoin="round"/>
<rect x="943.98" y="174.5" width="36.75" height="341.2" fill="#fff"/><g clip-path="url(#cc8)" stroke="#231f20" fill="none"><path d="M927.65 187.35H981.73M927.65 207.75H981.73M927.65 228.15H981.73M927.65 248.55H981.73M927.65 268.95H981.73M927.65 289.35H981.73M927.65 309.75H981.73M927.65 330.15H981.73M927.65 350.55H981.73M927.65 370.95H981.73M927.65 391.35H981.73M927.65 411.75H981.73M927.65 432.15H981.73M927.65 452.55H981.73M927.65 472.95H981.73M927.65 493.35H981.73M927.65 513.75H981.73" stroke-width="10.2" stroke-dasharray="10.2 10.2"/><path d="M937.85 177.15H981.73M937.85 197.55H981.73M937.85 217.95H981.73M937.85 238.35H981.73M937.85 258.75H981.73M937.85 279.15H981.73M937.85 299.55H981.73M937.85 319.95H981.73M937.85 340.35H981.73M937.85 360.75H981.73M937.85 381.15H981.73M937.85 401.55H981.73M937.85 421.95H981.73M937.85 442.35H981.73M937.85 462.75H981.73M937.85 483.15H981.73M937.85 503.55H981.73" stroke-width="10.2" stroke-dasharray="10.2 10.2"/></g><path d="M943.98 515.7V174.5H980.73V515.7" fill="none" stroke="#231f20" stroke-width="2.0" stroke-linejoin="round"/>
<path d="M151.45 215.2H163.05M151.45 231.3H163.05M157.25 215.2V231.3M197.15 205.7H208.75M197.15 218.8H208.75M202.95 205.7V218.8M242.85 197.3H254.45M242.85 215.2H254.45M248.65 197.3V215.2M288.55 165.6H300.15M288.55 218.3H300.15M294.35 165.6V218.3M334.25 147.5H345.85M334.25 194.8H345.85M340.05 147.5V194.8M379.95 128.4H391.55M379.95 148.8H391.55M385.75 128.4V148.8M425.65 97.2H437.25M425.65 110.9H437.25M431.45 97.2V110.9M471.35 58.5H482.95M471.35 81.3H482.95M477.15 58.5V81.3M517.05 37H528.65M517.05 46.2H528.65M522.85 37V46.2M591.15 195.2H602.75M591.15 239.5H602.75M596.95 195.2V239.5M636.85 194.1H648.45M636.85 231.5H648.45M642.65 194.1V231.5M682.55 184.9H694.15M682.55 223.4H694.15M688.35 184.9V223.4M728.25 179.1H739.85M728.25 213.9H739.85M734.05 179.1V213.9M773.95 165.4H785.55M773.95 209.8H785.55M779.75 165.4V209.8M819.65 161.6H831.25M819.65 210H831.25M825.45 161.6V210M865.35 155H876.95M865.35 210.4H876.95M871.15 155V210.4M911.05 152.1H922.65M911.05 210.7H922.65M916.85 152.1V210.7M956.75 142.6H968.35M956.75 204.5H968.35M962.55 142.6V204.5" fill="none" stroke="#77787b" stroke-width="1.9"/>
<text x="337.9" y="21.5" font-family="Liberation Sans, Arial, Helvetica, sans-serif" font-size="30.4" font-weight="bold" fill="#77787b">Plant height versus Day</text>
<g font-family="Liberation Sans, Arial, Helvetica, sans-serif" font-size="27" fill="#231f20" stroke="#231f20" stroke-width="0.55">
<text x="98.2" y="525.9" text-anchor="end">0.0</text>
<text x="98.2" y="444.4" text-anchor="end">50.0</text>
<text x="31.52" y="362.9">1<tspan x="45.64">00.0</tspan></text>
<rect x="32.98" y="359.38" width="5.23" height="5.2" fill="#fff" stroke="none"/><rect x="40.8" y="359.38" width="5.42" height="5.2" fill="#fff" stroke="none"/>
<text x="31.52" y="281.4">1<tspan x="45.64">50.0</tspan></text>
<rect x="32.98" y="277.88" width="5.23" height="5.2" fill="#fff" stroke="none"/><rect x="40.8" y="277.88" width="5.42" height="5.2" fill="#fff" stroke="none"/>
<text x="98.2" y="199.9" text-anchor="end">200.0</text>
<text x="98.2" y="118.4" text-anchor="end">250.0</text>
<text x="98.2" y="36.9" text-anchor="end">300.0</text>
<text transform="translate(20.3 403.3) rotate(-90)" font-size="28">Plant height (cm)</text>
<text x="279.8" y="557.2">Treatment</text>
<text x="735.6" y="557.2">Control</text>
<rect x="121.65" y="592.4" width="14" height="13.9" fill="#fff"/><g clip-path="url(#cl0)" stroke="#231f20" fill="none"><path d="M111.65 591.52H136.3M111.65 601.72H136.3" stroke-width="2.55" stroke-dasharray="2.55 7.65"/><path d="M114.2 594.07H136.3M114.2 604.27H136.3" stroke-width="2.55" stroke-dasharray="2.55 7.65"/><path d="M116.75 596.62H136.3M116.75 606.82H136.3" stroke-width="2.55" stroke-dasharray="2.55 7.65"/><path d="M119.3 599.17H136.3" stroke-width="2.55" stroke-dasharray="2.55 7.65"/></g><rect x="121.65" y="592.4" width="14" height="13.9" fill="none" stroke="#231f20" stroke-width="1.3" stroke-linejoin="round"/>
<text x="142.75" y="607.5" font-size="28">Week 0</text>
<rect x="305.55" y="592.4" width="14" height="13.9" fill="#fff"/><g clip-path="url(#cl1)" stroke="#231f20" fill="none"><path d="M295.25 591.52H320.5" stroke-width="2.55" stroke-dasharray="2.55 17.85"/><path d="M305.45 601.72H320.5" stroke-width="2.55" stroke-dasharray="2.55 17.85"/></g><rect x="305.55" y="592.4" width="14" height="13.9" fill="none" stroke="#231f20" stroke-width="1.9" stroke-linejoin="round"/>
<text x="326.65" y="607.5" font-size="28">Week <tspan dx="0.9">1</tspan></text>
<rect x="407.94" y="603.91" width="5.41" height="5.2" fill="#fff" stroke="none"/><rect x="416.03" y="603.91" width="5.59" height="5.2" fill="#fff" stroke="none"/>
<rect x="489.45" y="592.4" width="14" height="13.9" fill="#fff"/><g clip-path="url(#cl2)" stroke="#231f20" fill="none"><path d="M488.5 591.52H504.4" stroke-width="2.55"/><path d="M478.85 601.72H504.4" stroke-width="17.85" stroke-dasharray="2.55 17.85"/></g><rect x="489.45" y="592.4" width="14" height="13.9" fill="none" stroke="#231f20" stroke-width="1.9" stroke-linejoin="round"/>
<text x="510.55" y="607.5" font-size="28">Week 2</text>
<rect x="673.35" y="592.4" width="14" height="13.9" fill="#fff"/><g clip-path="url(#cl3)" stroke="#231f20" fill="none"><path d="M665 595.35H688.3M665 605.55H688.3" stroke-width="5.1" stroke-dasharray="5.1 5.1"/><path d="M659.9 600.45H688.3" stroke-width="5.1" stroke-dasharray="5.1 5.1"/></g><rect x="673.35" y="592.4" width="14" height="13.9" fill="none" stroke="#231f20" stroke-width="1.9" stroke-linejoin="round"/>
<text x="694.45" y="607.5" font-size="28">Week 3</text>
<rect x="857.25" y="592.4" width="14" height="13.9" fill="#77787b"/><rect x="857.25" y="592.4" width="14" height="13.9" fill="none" stroke="#231f20" stroke-width="1.9" stroke-linejoin="round"/>
<text x="878.35" y="607.5" font-size="28">Week 4</text>
<rect x="121.65" y="624.4" width="14" height="13.9" fill="#fff"/><g clip-path="url(#cl5)" stroke="#231f20" fill="none"><path d="M129.5 632.32H136.6" stroke-width="2.55" stroke-dasharray="2.55 17.85"/><path d="M126.95 634.87H136.6" stroke-width="2.55" stroke-dasharray="2.55 17.85"/><path d="M124.4 637.42H136.6" stroke-width="2.55" stroke-dasharray="2.55 17.85"/><path d="M121.85 639.97H136.6" stroke-width="2.55" stroke-dasharray="2.55 17.85"/><path d="M116.75 624.67H136.6" stroke-width="2.55" stroke-dasharray="2.55 5.1 2.55 10.2"/><path d="M114.2 627.22H136.6" stroke-width="2.55" stroke-dasharray="2.55 10.2 2.55 5.1"/><path d="M109.1 629.77H136.6" stroke-width="2.55" stroke-dasharray="5.1 15.3"/></g><rect x="121.65" y="624.4" width="14" height="13.9" fill="none" stroke="#231f20" stroke-width="1.9" stroke-linejoin="round"/>
<text x="142.75" y="639.5" font-size="28">Week 5</text>
<rect x="305.55" y="624.4" width="14" height="13.9" fill="#fff"/><g clip-path="url(#cl6)" stroke="#231f20" fill="none"><path d="M304.6 627.22H320.5M304.6 632.32H320.5M304.6 637.42H320.5" stroke-width="2.55"/></g><rect x="305.55" y="624.4" width="14" height="13.9" fill="none" stroke="#231f20" stroke-width="1.9" stroke-linejoin="round"/>
<text x="326.65" y="639.5" font-size="28">Week 6</text>
<rect x="489.45" y="624.4" width="14" height="13.9" fill="#fff"/><g clip-path="url(#cl7)" stroke="#231f20" fill="none"><path d="M476.3 632.32H504.4" stroke-width="2.55" stroke-dasharray="5.1 15.3"/><path d="M481.4 624.67H504.4M481.4 634.87H504.4" stroke-width="2.55" stroke-dasharray="2.55 10.2 2.55 5.1"/><path d="M483.95 627.22H504.4M483.95 637.42H504.4" stroke-width="2.55" stroke-dasharray="2.55 5.1 2.55 10.2"/><path d="M486.5 629.77H504.4M486.5 639.97H504.4" stroke-width="2.55" stroke-dasharray="5.1 15.3"/></g><rect x="489.45" y="624.4" width="14" height="13.9" fill="none" stroke="#231f20" stroke-width="1.9" stroke-linejoin="round"/>
<text x="510.55" y="639.5" font-size="28">Week 7</text>
<rect x="673.35" y="624.4" width="14" height="13.9" fill="#fff"/><g clip-path="url(#cl8)" stroke="#231f20" fill="none"><path d="M662.45 636.15H688.3" stroke-width="10.2" stroke-dasharray="10.2 10.2"/><path d="M672.65 625.95H688.3" stroke-width="10.2" stroke-dasharray="10.2 10.2"/></g><rect x="673.35" y="624.4" width="14" height="13.9" fill="none" stroke="#231f20" stroke-width="1.9" stroke-linejoin="round"/>
<text x="694.45" y="639.5" font-size="28">Week 8</text>
</g>
</svg>
</body></html>
